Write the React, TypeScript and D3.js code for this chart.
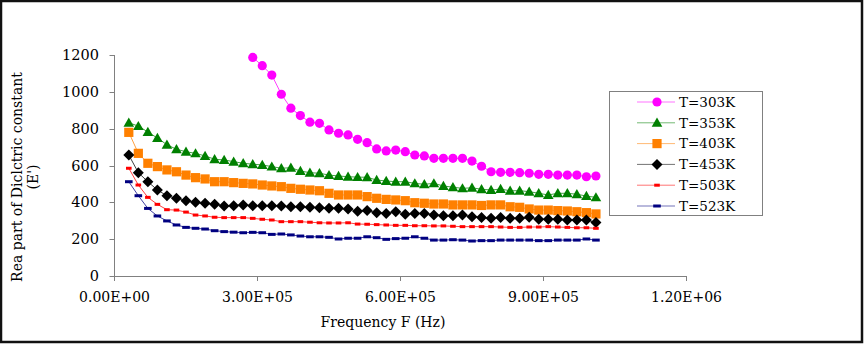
import React from 'react';
import * as d3 from 'd3';

// Frequencies (Hz) of the measured points
const FREQ_HZ = [
  30000, 50000, 70000, 90000, 110000, 130000, 150000, 170000, 190000, 210000,
  230000, 250000, 270000, 290000, 310000, 330000, 350000, 370000, 390000, 410000,
  430000, 450000, 470000, 490000, 510000, 530000, 550000, 570000, 590000, 610000,
  630000, 650000, 670000, 690000, 710000, 730000, 750000, 770000, 790000, 810000,
  830000, 850000, 870000, 890000, 910000, 930000, 950000, 970000, 990000, 1010000,
];

// T=303K starts at 290 kHz (index 13)
const T303_START = 13;
const T303 = [
  1187, 1142, 1091, 987, 911, 871, 835, 829, 793, 775, 766, 742,
  724, 690, 679, 684, 675, 657, 652, 639, 639, 639, 639, 624, 596,
  566, 563, 563, 561, 558, 552, 552, 548, 548, 548, 539, 543,
];
const T353 = [
  832, 814, 782, 749, 713, 688, 675, 666, 652, 634, 630, 621,
  612, 607, 603, 594, 585, 588, 570, 561, 558, 548, 543, 539, 537,
  536, 521, 516, 512, 512, 503, 498, 503, 489, 482, 476, 479, 471,
  467, 472, 463, 463, 458, 449, 440, 449, 449, 444, 434, 427,
];
const T403 = [
  780, 666, 612, 594, 576, 566, 548, 534, 527, 512, 512, 507,
  503, 500, 494, 489, 485, 476, 471, 467, 463, 449, 440, 440, 440,
  431, 422, 416, 413, 409, 398, 395, 391, 391, 386, 386, 386, 383,
  386, 386, 376, 373, 364, 358, 358, 355, 353, 349, 344, 337,
];
const T453 = [
  657, 561, 512, 467, 436, 422, 409, 400, 395, 389, 380, 382,
  386, 382, 382, 382, 380, 376, 376, 373, 371, 368, 368, 364, 352,
  355, 344, 340, 349, 335, 340, 340, 331, 327, 327, 331, 322, 318,
  313, 317, 313, 313, 319, 308, 308, 308, 304, 304, 304, 290,
];
const T503 = [
  585, 494, 427, 389, 360, 358, 347, 331, 326, 319, 317, 317,
  317, 313, 308, 304, 295, 295, 295, 292, 289, 288, 288, 289, 282,
  281, 279, 277, 275, 275, 273, 273, 272, 272, 270, 268, 268, 268,
  268, 266, 264, 264, 266, 266, 268, 266, 264, 262, 262, 259,
];
const T523 = [
  512, 436, 367, 326, 299, 277, 264, 259, 255, 246, 241, 238,
  235, 237, 235, 226, 228, 223, 217, 213, 213, 210, 201, 205, 205,
  213, 208, 199, 203, 205, 213, 205, 195, 195, 197, 195, 190, 192,
  192, 195, 195, 195, 195, 192, 192, 195, 195, 195, 201, 195,
];

const SERIES_NAMES = ['T=303K', 'T=353K', 'T=403K', 'T=453K', 'T=503K', 'T=523K'];
const SERIES_VALUES = [T303, T353, T403, T453, T503, T523];
const SERIES_START = [T303_START, 0, 0, 0, 0, 0];

const X_TICKS = [0, 300000, 600000, 900000, 1200000];
const X_TICK_LABELS = ['0.00E+00', '3.00E+05', '6.00E+05', '9.00E+05', '1.20E+06'];
const Y_TICKS = [0, 200, 400, 600, 800, 1000, 1200];

const X_TITLE = 'Frequency F (Hz)';
const Y_TITLE_1 = 'Rea part of Diclctric constant';
const Y_TITLE_2 = "(E')";

const COLORS = ['#FF00FF', '#008000', '#FF8000', '#000000', '#FF0000', '#000080'];
const SHAPES = ['circle', 'triangle', 'square', 'diamond', 'smalldash', 'dash'];

const FONT = "'DejaVu Serif', serif";

function Marker({ shape, x, y, color }: { shape: string; x: number; y: number; color: string }) {
  switch (shape) {
    case 'circle':
      return <circle cx={x} cy={y} r={4.6} fill={color} />;
    case 'triangle':
      return <path d={`M${x},${y - 5.2}L${x + 5.3},${y + 4}L${x - 5.3},${y + 4}Z`} fill={color} />;
    case 'square':
      return <rect x={x - 4.6} y={y - 4.6} width={9.2} height={9.2} fill={color} />;
    case 'diamond':
      return <path d={`M${x},${y - 5.5}L${x + 5.5},${y}L${x},${y + 5.5}L${x - 5.5},${y}Z`} fill={color} />;
    case 'smalldash':
      return <rect x={x - 2.8} y={y - 1.5} width={5.6} height={3} fill={color} />;
    case 'dash':
      return <rect x={x - 3.8} y={y - 1.5} width={7.6} height={3} fill={color} />;
    default:
      return null;
  }
}

export default function App() {
  const W = 864;
  const H = 344;
  const x = d3.scaleLinear().domain([0, 1200000]).range([114.5, 686.5]);
  const y = d3.scaleLinear().domain([0, 1200]).range([276, 55]);

  const line = d3
    .line<[number, number]>()
    .x((d) => x(d[0]))
    .y((d) => y(d[1]));

  const series = SERIES_NAMES.map((name, si) => {
    const pts: [number, number][] = SERIES_VALUES[si].map((v, i) => [FREQ_HZ[SERIES_START[si] + i], v]);
    return { name, pts, color: COLORS[si], shape: SHAPES[si] };
  });

  const legX = 609;
  const legY = 91;
  const legW = 153;
  const legH = 124;
  const rowY0 = 102;
  const rowDY = 20.8;

  return (
    <svg
      width={W}
      height={H}
      style={{ position: 'absolute', left: 0, top: 0, background: '#fff' }}
      fontFamily={FONT}
    >
      <rect x={0} y={0} width={W} height={H} fill="#fff" />
      {/* outer frame */}
      <rect x={1} y={1} width={W - 3} height={H - 3} fill="none" stroke="#111" strokeWidth={2.5} />

      {/* axes */}
      <line x1={x(0)} x2={x(0)} y1={y(1200)} y2={y(0)} stroke="#808080" strokeWidth={1} />
      <line x1={x(0)} x2={x(1200000)} y1={y(0) + 0.5} y2={y(0) + 0.5} stroke="#808080" strokeWidth={1} />
      {Y_TICKS.map((t) => (
        <g key={'y' + t}>
          <line x1={x(0) - 5} x2={x(0)} y1={Math.round(y(t)) + 0.5} y2={Math.round(y(t)) + 0.5} stroke="#808080" />
          <text x={99} y={y(t)} dy="0.35em" textAnchor="end" fontSize={14.5} fill="#000">
            {t}
          </text>
        </g>
      ))}
      {X_TICKS.map((t, i) => (
        <g key={'x' + t}>
          <line x1={x(t)} x2={x(t)} y1={y(0)} y2={y(0) + 5} stroke="#808080" />
          <text x={x(t)} y={302} textAnchor="middle" fontSize={14} fill="#000">
            {X_TICK_LABELS[i]}
          </text>
        </g>
      ))}
      <text x={383} y={327} textAnchor="middle" fontSize={14} fill="#000">
        {X_TITLE}
      </text>
      <text transform="translate(22,177) rotate(-90)" textAnchor="middle" fontSize={14} fill="#000">
        {Y_TITLE_1}
      </text>
      <text transform="translate(38,177) rotate(-90)" textAnchor="middle" fontSize={14} fill="#000">
        {Y_TITLE_2}
      </text>

      {/* series */}
      {series.map((s) => (
        <g key={s.name}>
          <path d={line(s.pts) || ''} fill="none" stroke={s.color} strokeWidth={1} strokeOpacity={0.75} />
          {s.pts.map((p, i) => (
            <Marker key={i} shape={s.shape} x={x(p[0])} y={y(p[1])} color={s.color} />
          ))}
        </g>
      ))}

      {/* legend */}
      <rect x={legX + 0.5} y={legY + 0.5} width={legW} height={legH} fill="#fff" stroke="#808080" strokeWidth={1} />
      {series.map((s, i) => {
        const ry = rowY0 + i * rowDY;
        return (
          <g key={'leg' + s.name}>
            <line x1={637} x2={675} y1={ry} y2={ry} stroke={s.color} strokeWidth={1} strokeOpacity={0.55} />
            <Marker shape={s.shape} x={657} y={ry} color={s.color} />
            <text x={679} y={ry} dy="0.35em" fontSize={13.5} fill="#000">
              {s.name}
            </text>
          </g>
        );
      })}
    </svg>
  );
}
